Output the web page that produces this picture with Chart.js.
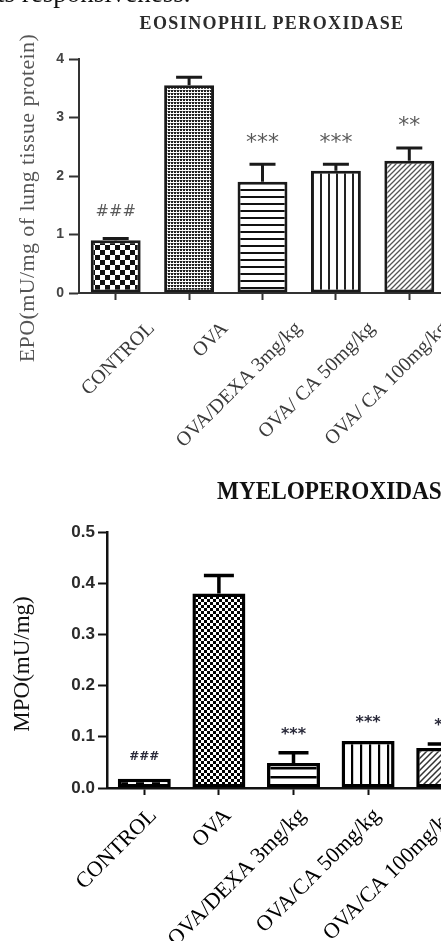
<!DOCTYPE html>
<html><head><meta charset="utf-8">
<script src="https://cdn.jsdelivr.net/npm/chart.js@4.4.1/dist/chart.umd.min.js"></script>
<style>
html,body{margin:0;padding:0;background:#fff;width:441px;height:941px;overflow:hidden;position:relative}
.abs{position:absolute;white-space:nowrap}
</style></head><body>
<div class="abs" style="left:0;top:0;width:446px;height:470px"><canvas id="c1" width="446" height="470"></canvas></div>
<div class="abs" style="left:0;top:470px;width:480px;height:471px"><canvas id="c2" width="480" height="471"></canvas></div>
<div class="abs" style="left:-3px;top:-22px;font:27px 'Liberation Serif';color:#111">ts responsiveness.</div>
<div class="abs" style="left:272px;top:23px;transform:translate(-50%,-50%);font:bold 18px 'Liberation Serif';letter-spacing:1.4px;color:#2b2b2b">EOSINOPHIL PEROXIDASE</div>
<div class="abs" style="left:27px;top:198px;transform:translate(-50%,-50%) rotate(-90deg);font:22px 'Liberation Serif';letter-spacing:0.4px;color:#555">EPO(mU/mg of lung tissue protein)</div>
<div class="abs" style="left:217px;top:491px;transform:translateY(-50%) scaleX(0.93);transform-origin:left center;font:bold 25px 'Liberation Serif';color:#111">MYELOPEROXIDASE</div>
<div class="abs" style="left:22px;top:664px;transform:translate(-50%,-50%) rotate(-90deg);font:23px 'Liberation Serif';color:#111">MPO(mU/mg)</div>
<script>
// ---- data ----
const epoLabels = ['CONTROL', 'OVA', 'OVA/DEXA 3mg/kg', 'OVA/ CA 50mg/kg', 'OVA/ CA 100mg/kg'];
const epoMean = [0.90, 3.55, 1.90, 2.09, 2.26];
const epoSem = [0.03, 0.14, 0.30, 0.11, 0.22];
const epoSig = ['###', '', '***', '***', '**'];
const epoTicks = [0, 1, 2, 3, 4];

const mpoLabels = ['CONTROL', 'OVA', 'OVA/DEXA 3mg/kg', 'OVA/CA 50mg/kg', 'OVA/CA 100mg/kg'];
const mpoMean = [0.018, 0.380, 0.049, 0.092, 0.078];
const mpoSem = [0.000, 0.035, 0.020, 0.000, 0.008];
const mpoSig = ['###', '', '***', '***', '**'];
const mpoTicks = [0, 0.1, 0.2, 0.3, 0.4, 0.5];

// ---- patterns ----
function tile(w, h, draw) {
  const c = document.createElement('canvas'); c.width = w; c.height = h;
  const g = c.getContext('2d'); g.fillStyle = '#fff'; g.fillRect(0, 0, w, h); draw(g, w, h);
  return document.getElementById('c1').getContext('2d').createPattern(c, 'repeat');
}
const checker = (s, col) => tile(2*s, 2*s, (g) => { g.fillStyle = col; g.fillRect(0,0,s,s); g.fillRect(s,s,s,s); });
const hlines = (sp, lw, col) => tile(4, sp, (g) => { g.fillStyle = col; g.fillRect(0,0,4,lw); });
const vlines = (sp, lw, col) => tile(sp, 4, (g) => { g.fillStyle = col; g.fillRect(0,0,lw,4); });
const diag = (sp, lw, col) => tile(sp, sp, (g, w, h) => {
  g.strokeStyle = col; g.lineWidth = lw; g.beginPath();
  g.moveTo(-1, h+1); g.lineTo(w+1, -1);
  g.moveTo(-1, 1); g.lineTo(1, -1);
  g.moveTo(w-1, h+1); g.lineTo(w+1, h-1); g.stroke();
});
const dots = tile(3, 3, (g) => { g.fillStyle = '#222'; g.fillRect(0,0,2,2); g.fillStyle = '#999'; g.fillRect(2,0,1,1); });

const epoFill = [checker(5, '#111'), dots, hlines(7, 2, '#111'), vlines(8, 2, '#222'), diag(5, 1.3, '#555')];
const mpoFill = [checker(8, '#000'), checker(3, '#000'), hlines(9, 2.5, '#000'), vlines(9, 2.2, '#000'), diag(6, 1.5, '#333')];

// ---- error bars + significance marks ----
function makeErr(mean, sem, sig, o) {
  return {
    id: 'err',
    afterDatasetsDraw(chart) {
      const ctx = chart.ctx, y = chart.scales.y, meta = chart.getDatasetMeta(0);
      ctx.save();
      meta.data.forEach((bar, i) => {
        const ye = y.getPixelForValue(mean[i] + sem[i]);
        if (sem[i] > 0) {
          ctx.strokeStyle = o.color; ctx.lineWidth = o.width; ctx.lineCap = 'butt';
          ctx.beginPath();
          ctx.moveTo(bar.x, bar.y); ctx.lineTo(bar.x, ye);
          ctx.moveTo(bar.x - o.cap/2, ye); ctx.lineTo(bar.x + o.cap/2, ye);
          ctx.stroke();
        }
        const s = sig[i];
        if (s) {
          const star = s[0] === '*';
          const fs = star ? o.starSize : o.hashSize;
          ctx.font = o.weight + ' ' + fs + 'px "DejaVu Sans"';
          ctx.fillStyle = o.sigColor; ctx.textAlign = 'center'; ctx.textBaseline = 'alphabetic';
          ctx.fillText(s, bar.x, ye - o.gap + (star ? 0.57 : 0.36) * fs);
        }
      });
      ctx.restore();
    }
  };
}

Chart.defaults.animation = false;

new Chart(document.getElementById('c1'), {
  type: 'bar',
  data: { labels: epoLabels, datasets: [{ data: epoMean, backgroundColor: epoFill, borderColor: '#1a1a1a', borderWidth: 3, borderSkipped: false, barPercentage: 0.68, categoryPercentage: 1 }] },
  options: {
    responsive: false, animation: false, devicePixelRatio: 1,
    layout: { padding: { top: 59, left: 0, right: 0, bottom: 0 } },
    plugins: { legend: { display: false }, tooltip: { enabled: false } },
    scales: {
      x: {
        grid: { display: true, drawOnChartArea: false, offset: false, tickLength: 7, tickWidth: 2, tickColor: '#333' },
        border: { display: true, color: '#333', width: 2 },
        ticks: { autoSkip: false, minRotation: 45, maxRotation: 45, labelOffset: 36, padding: 17, color: '#3a3a3a', font: { family: 'Liberation Serif', size: 20 } },
        afterFit(s) { s.height = 177; }
      },
      y: {
        min: 0, max: 4,
        grid: { display: true, drawOnChartArea: false, tickLength: 10, tickWidth: 2, tickColor: '#333' },
        border: { display: true, color: '#333', width: 2 },
        ticks: { padding: 5, color: '#444', font: { family: 'Liberation Sans', size: 14, weight: 'bold' }, callback: (v) => String(v) },
        afterBuildTicks(s) { s.ticks = epoTicks.map(v => ({ value: v })); },
        afterFit(s) { s.width = 79; }
      }
    }
  },
  plugins: [makeErr(epoMean, epoSem, epoSig, { color: '#1a1a1a', width: 3, cap: 26, gap: 28, starSize: 22, hashSize: 16, weight: 'normal', sigColor: '#5a5a5a' })]
});

new Chart(document.getElementById('c2'), {
  type: 'bar',
  data: { labels: mpoLabels, datasets: [{ data: mpoMean, backgroundColor: mpoFill, borderColor: '#000', borderWidth: 3.5, borderSkipped: false, barPercentage: 0.71, categoryPercentage: 1 }] },
  options: {
    responsive: false, animation: false, devicePixelRatio: 1,
    layout: { padding: { top: 62, left: 0, right: 0, bottom: 0 } },
    plugins: { legend: { display: false }, tooltip: { enabled: false } },
    scales: {
      x: {
        grid: { display: true, drawOnChartArea: false, offset: false, tickLength: 7, tickWidth: 2, tickColor: '#111' },
        border: { display: true, color: '#111', width: 2.5 },
        ticks: { autoSkip: false, minRotation: 45, maxRotation: 45, labelOffset: 9, padding: 8, color: '#000', font: { family: 'Liberation Serif', size: 22 } },
        afterFit(s) { s.height = 153; }
      },
      y: {
        min: 0, max: 0.5,
        grid: { display: true, drawOnChartArea: false, tickLength: 9, tickWidth: 2, tickColor: '#111' },
        border: { display: true, color: '#111', width: 2.5 },
        ticks: { padding: 3, color: '#2a2a2a', font: { family: 'Liberation Sans', size: 17, weight: 'bold' }, callback: (v) => Number(v).toFixed(1) },
        afterBuildTicks(s) { s.ticks = mpoTicks.map(v => ({ value: v })); },
        afterFit(s) { s.width = 107; }
      }
    }
  },
  plugins: [makeErr(mpoMean, mpoSem, mpoSig, { color: '#000', width: 3.5, cap: 30, gap: 23, starSize: 16, hashSize: 12, weight: 'bold', sigColor: '#2a2a3a' })]
});
</script>
</body></html>
